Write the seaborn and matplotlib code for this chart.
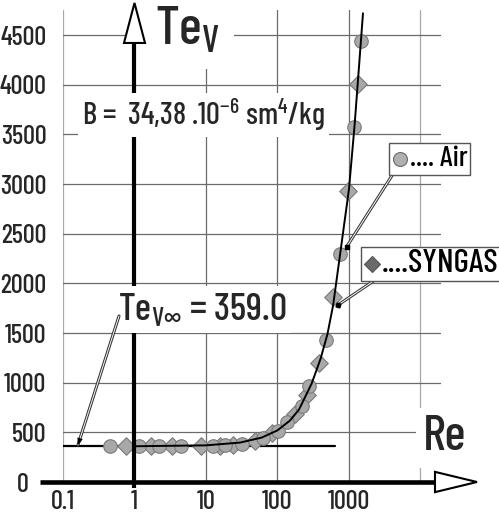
import matplotlib
matplotlib.use("Agg")
import matplotlib.pyplot as plt
import seaborn as sns
import pandas as pd
from matplotlib import font_manager as fm
from matplotlib.patches import Polygon
from matplotlib.transforms import ScaledTranslation
from matplotlib.offsetbox import AnnotationBbox, HPacker, TextArea, DrawingArea
from matplotlib.lines import Line2D

# ---- data ----
air_re = [0.45, 1.16, 2.2, 4.5, 12.6, 18.7, 31.6, 63, 102, 134, 218, 279, 477, 748, 1186, 1472]
air_te = [362, 360, 360, 361, 363, 370, 385, 445, 515, 600, 770, 967, 1430, 2296, 3572, 4444]
syn_re = [0.76, 1.69, 3.3, 8.5, 15.8, 24, 48, 83, 176, 256, 381, 603, 978, 1318]
syn_te = [360, 360, 360, 362, 366, 375, 410, 490, 680, 876, 1195, 1866, 2934, 4005]
fit_re = [1, 10, 30, 60, 100, 150, 200, 300, 400, 500, 600, 750, 1000, 1200, 1472, 1570]
fit_te = [360, 369, 397, 447, 520, 620, 730, 990, 1240, 1490, 1780, 2290, 2950, 3600, 4450, 4720]
te_inf = 359.0
te_inf_re = [0.1, 630]
x_ticks = [0.1, 1, 10, 100, 1000, 10000]
x_labels = ["0.1", "1", "10", "100", "1000", ""]
y_ticks = [0, 500, 1000, 1500, 2000, 2500, 3000, 3500, 4000, 4500]

sns.set_style("white")
installed = {f.name for f in fm.fontManager.ttflist}
NARROW = next((n for n in ["Barlow Condensed", "Fira Sans Extra Condensed", "Archivo Narrow",
                           "Roboto Condensed", "Asap Condensed"]
               if n in installed), "DejaVu Sans")
FONT = [NARROW, "DejaVu Sans"]
plt.rcParams["font.family"] = FONT
plt.rcParams["font.weight"] = "medium"
plt.rcParams["mathtext.fontset"] = "custom"
plt.rcParams["mathtext.rm"] = NARROW + ":medium"
plt.rcParams["mathtext.default"] = "regular"

W, H = 499, 513
fig = plt.figure(figsize=(W / 100, H / 100), dpi=100)
ax = fig.add_axes([63 / W, 31 / H, 378 / W, 472 / H])
ax.set_xscale("log")
ax.set_xlim(0.1, 10 ** 4.287)
ax.set_ylim(0, 4753)
for s in ax.spines.values():
    s.set_visible(False)

ax.set_xticks(x_ticks)
ax.set_xticklabels(x_labels)
ax.set_yticks(y_ticks)
ax.minorticks_off()
ax.tick_params(axis="both", length=0, labelsize=19)
ax.tick_params(axis="y", pad=12)
ax.tick_params(axis="x", pad=6)
ax.grid(True, color="#6a6a6a", lw=0.9, zorder=0.5)
ax.set_axisbelow(True)
for i, gl in enumerate(ax.get_xgridlines()):
    if i in (0, 5):
        gl.set_color("#a8a8a8")

df_air = pd.DataFrame({"Re": air_re, "Te": air_te})
df_syn = pd.DataFrame({"Re": syn_re, "Te": syn_te})
df_fit = pd.DataFrame({"Re": fit_re, "Te": fit_te})

sns.lineplot(data=pd.DataFrame({"Re": te_inf_re, "Te": [te_inf, te_inf]}), x="Re", y="Te",
             color="black", lw=1.6, ax=ax, zorder=2)
sns.scatterplot(data=df_syn, x="Re", y="Te", marker="D", s=80, color="#a8a8a8",
                edgecolor="#7a7a7a", linewidth=0.8, ax=ax, zorder=3)
sns.scatterplot(data=df_air, x="Re", y="Te", marker="o", s=95, color="#a8a8a8",
                edgecolor="#7a7a7a", linewidth=0.8, ax=ax, zorder=3)
sns.lineplot(data=df_fit, x="Re", y="Te", sort=False, estimator=None,
             color="black", lw=1.4, ax=ax, zorder=4)
ax.set_xlabel("")
ax.set_ylabel("")

# ---- thick axes with hollow arrowheads ----
ax.plot([1, 1], [-60, 4421], color="black", lw=3, clip_on=False, zorder=4,
        solid_capstyle="butt")
ax.add_patch(Polygon([(0.713, 4421), (1.403, 4421), (1, 4824)], closed=True,
                     fc="white", ec="black", lw=1.5, clip_on=False, zorder=7))
ax.plot([0.0477, 15960], [0, 0], color="black", lw=3.3, clip_on=False, zorder=4,
        solid_capstyle="butt")
ax.add_patch(Polygon([(15960, -102), (15960, 102), (61700, 0)], closed=True,
                     fc="white", ec="black", lw=1.5, clip_on=False, zorder=7))

white = dict(boxstyle="square,pad=0.12", fc="white", ec="none")

def fx(x):
    return x / W

def fy(y):
    return 1 - y / H

def label(x, y, s, size, bbox):
    return ax.text(fx(x), fy(y), s, fontsize=size, ha="left", va="baseline",
                   transform=fig.transFigure, bbox=bbox, zorder=6, clip_on=False)

label(155, 45, r"Te$_{V}$", 39, dict(boxstyle="square,pad=0.25", fc="white", ec="none"))
label(82, 125, r"B =  34,38 .10$^{-6}$ sm$^{4}$/kg", 22, white)
label(118, 320, r"Te$_{V\infty}$ = 359.0", 27.5, white)
label(423, 450, "Re", 36, dict(boxstyle="square,pad=0.15", fc="white", ec="none"))

# ---- leader lines ----
def leader(xy, start_px, head=False):
    for lw, col in ((2.2, "#333333"), (0.7, "white")):
        ax.annotate("", xy=xy, xycoords="data",
                    xytext=(start_px[0], H - start_px[1]), textcoords="figure pixels",
                    arrowprops=dict(arrowstyle="-", color=col, lw=lw,
                                    shrinkA=0, shrinkB=0), zorder=8)
    if head:
        ax.annotate("", xy=xy, xycoords="data",
                    xytext=(start_px[0], H - start_px[1]), textcoords="figure pixels",
                    arrowprops=dict(arrowstyle="-|>,head_length=0.5,head_width=0.2",
                                    color="black", lw=0.01, shrinkA=0, shrinkB=0),
                    zorder=8)

leader((0.162, 373), (119, 316), head=True)
leader((930, 2370), (393, 174))
leader((702, 1782), (378, 278))
ax.plot([930], [2370], marker="s", ms=3.5, color="black", zorder=9)
ax.plot([702], [1782], marker=(4, 0, 30), ms=4, color="black", zorder=9)

# ---- label boxes ----
def key_box(marker, mfc, mec, ms, text, size):
    da = DrawingArea(12, 12, 0, 0)
    da.add_artist(Line2D([6], [6], marker=marker, ms=ms, mfc=mfc, mec=mec, mew=0.8, ls=""))
    ta = TextArea(text, textprops=dict(fontsize=size, family=FONT, color="black"))
    return HPacker(children=[da, ta], align="center", pad=0, sep=1)

ab1 = AnnotationBbox(key_box("o", "#b0b0b0", "#6a6a6a", 10, ".... Air", 21),
                     (429.5, H - 159), xycoords="figure pixels", box_alignment=(0.5, 0.5),
                     frameon=True, pad=0.2,
                     bboxprops=dict(boxstyle="square,pad=0.2", fc="white", ec="#555555", lw=1))
ab1.set_zorder(10)
ax.add_artist(ab1)
ab2 = AnnotationBbox(key_box("D", "#6a6a6a", "#555555", 8.5, "....SYNGAS", 24),
                     (364, H - 264), xycoords="figure pixels", box_alignment=(0, 0.5),
                     frameon=True, pad=0.2,
                     bboxprops=dict(boxstyle="square,pad=0.2", fc="white", ec="#555555", lw=1))
ab2.set_zorder(10)
ax.add_artist(ab2)

# the "0" label sits left of the extended x axis line
zero = ax.get_yticklabels()[0]
zero.set_transform(zero.get_transform() + ScaledTranslation(-0.18, 0, fig.dpi_scale_trans))

fig.savefig("out.png", dpi=100)
